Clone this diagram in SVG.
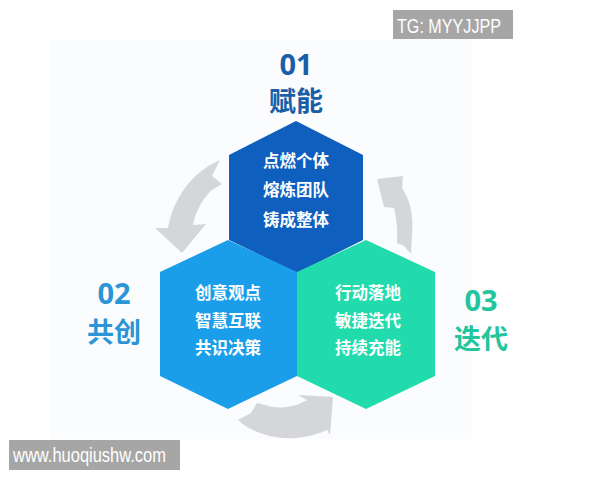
<svg xmlns="http://www.w3.org/2000/svg" width="600" height="480" viewBox="0 0 600 480">
<defs>
<style>
.cn{font-family:"Noto Sans CJK SC","Noto Sans",sans-serif;font-weight:bold;text-anchor:middle}
.inner{fill:#ffffff;font-size:16.5px}
.num{font-family:"Noto Sans","DejaVu Sans",sans-serif;font-weight:bold;text-anchor:middle;font-size:29px}
.title{font-size:27px}
.arrow{fill:#d5d6d9}
.wm{fill:#ffffff;font-family:"Liberation Sans",Arial,sans-serif;font-size:20px}
</style>
</defs>
<rect x="0" y="0" width="600" height="480" fill="#ffffff"/>
<rect x="50" y="39" width="422" height="400" fill="#fbfcfd"/>

<g id="connectors">
<path class="arrow" d="M220,160 C200,168 175,190 168,228 L155,228 L182,253 L206,224 L193,225 C196,210 203,198 212,190 L222,184 L212,176 Z"/>
<path class="arrow" d="M377,179 L403,176 L402,188 C410,200 414,215 412,235 L411,254 L404,246 L397,243 C398,228 396,216 394,208 L384,207 Z"/>
<path class="arrow" d="M238,420 C250,432 275,440 295,438 C310,437 320,433 327,430 L330,435 L333,397 L298,395 L307,400 C295,407 280,410 265,405 L257,403 L251,413 Z"/>
</g>

<g id="node-01">
<polygon points="296,121 363,155 363,240 297,273 229,240 229,155" fill="#0f5fbf"/>
<text class="cn inner" x="296" y="167">点燃个体</text>
<text class="cn inner" x="296" y="196">熔炼团队</text>
<text class="cn inner" x="296" y="226">铸成整体</text>
</g>
<g id="node-02">
<polygon points="228,240 297,272 297,376 228,409 160,376 160,272" fill="#1a9ee9"/>
<text class="cn inner" x="228" y="299">创意观点</text>
<text class="cn inner" x="228" y="327">智慧互联</text>
<text class="cn inner" x="228" y="354">共识决策</text>
</g>
<g id="node-03">
<polygon points="366,240 435,272 435,376 366,409 297,376 297,272" fill="#22dbad"/>
<text class="cn inner" x="368" y="299">行动落地</text>
<text class="cn inner" x="368" y="327">敏捷迭代</text>
<text class="cn inner" x="368" y="354">持续充能</text>
</g>

<g id="label-01">
<text class="num" x="296" y="75" fill="#1a5ea8">01</text>
<text class="cn title" x="296" y="111" fill="#1a5ea8">赋能</text>
</g>
<g id="label-02">
<text class="num" x="114" y="304" fill="#2b95d6">02</text>
<text class="cn title" x="114" y="342" fill="#2b95d6">共创</text>
</g>
<g id="label-03">
<text class="num" x="481" y="311" fill="#22c59c">03</text>
<text class="cn title" x="481" y="349" fill="#22c59c">迭代</text>
</g>

<g id="watermarks">
<rect x="393" y="10" width="120" height="29" fill="#a6a6a6"/>
<text class="wm" x="397" y="33" textLength="104" lengthAdjust="spacingAndGlyphs">TG: MYYJJPP</text>
<rect x="9" y="440" width="171" height="30" fill="#a6a6a6"/>
<text class="wm" x="13" y="462" textLength="153" lengthAdjust="spacingAndGlyphs">www.huoqiushw.com</text>
</g>
</svg>
